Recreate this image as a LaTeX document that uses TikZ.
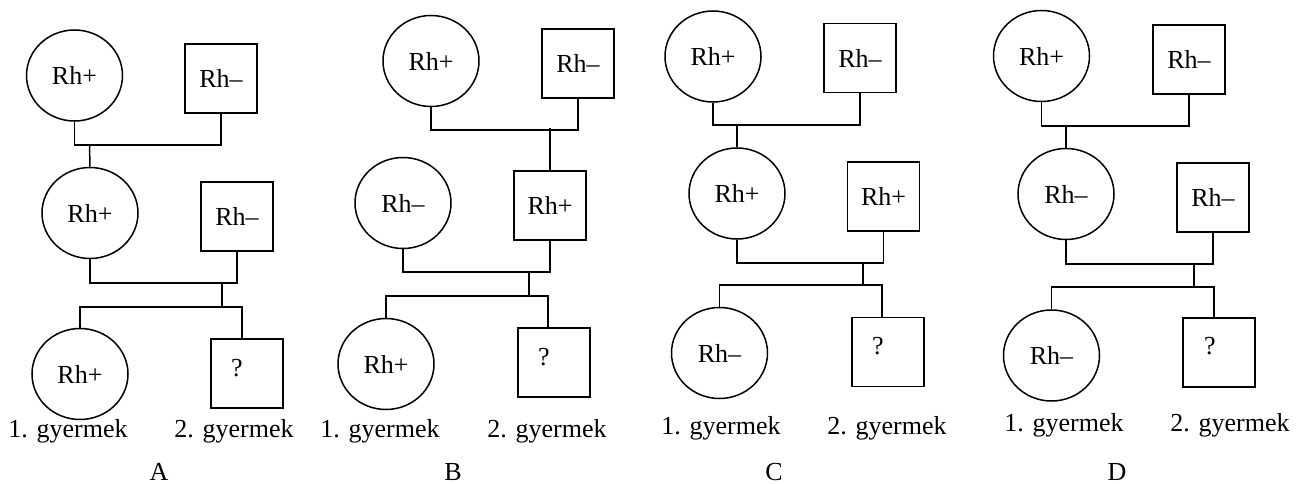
\documentclass[tikz,border=0pt]{standalone}
\usepackage{fontspec}
\setmainfont{Liberation Serif}
\usetikzlibrary{shapes.geometric}
\begin{document}
\begin{tikzpicture}[x=1pt,y=-1pt,line width=1.5pt,
  woman/.style={ellipse,draw,minimum width=96pt,minimum height=91pt,inner sep=0pt},
  man/.style={rectangle,draw,minimum width=72pt,minimum height=69pt,inner sep=0pt},
  every node/.append style={font=\fontsize{26}{31}\selectfont}]
\useasboundingbox (0,0) rectangle (1304,484);
% A
\node[woman](AW1) at (74.5,75.5){Rh+};
\node[man](AM1) at (221,78.5){Rh--};
\coordinate (Aj1) at (89.5,145);
\draw (AW1.south) |- (Aj1) -| (AM1.south);
\node[woman](AW2) at (90,213){Rh+};
\draw (Aj1) -- (AW2.north);
\node[man](AM2) at (237,216.5){Rh--};
\coordinate (Aj2) at (222,283);
\coordinate (Ak) at (222,307);
\draw (AW2.south) |- (Aj2) -| (AM2.south);
\draw (Aj2) -- (Ak);
\node[woman](AC1) at (80,374){Rh+};
\node[man](AC2) at (247,373.5){};
\node (AQ) at ([shift={(-10,-5)}]AC2.center){?};
\draw (AC1.north) |- (Ak) -| ([xshift=-5pt]AC2.north);
\node[anchor=base](AL1) at (68,437){1. gyermek};
\node[anchor=base](AL2) at (234,437){2. gyermek};
\node[anchor=base](A) at (159,480){A};
% B
\node[woman](BW1) at (431,61){Rh+};
\node[man](BM1) at (578,63.5){Rh--};
\coordinate (Bj1) at (550,130);
\draw (BW1.south) |- (Bj1) -| (BM1.south);
\node[woman](BW2) at (403,203){Rh--};
\node[man](BM2) at (550,205.5){Rh+};
\draw ([yshift=2pt]Bj1) -- (BM2.north);
\coordinate (Bj2) at (529,272);
\coordinate (Bk) at (529,296);
\draw (BW2.south) |- (Bj2) -| (BM2.south);
\draw (Bj2) -- (Bk);
\node[woman](BC1) at (386,364){Rh+};
\node[man](BC2) at (554,362.5){};
\node (BQ) at ([shift={(-10,-5)}]BC2.center){?};
\draw (BC1.north) |- (Bk) -| ([xshift=-6pt]BC2.north);
\node[anchor=base](BL1) at (380,437){1. gyermek};
\node[anchor=base](BL2) at (547,437){2. gyermek};
\node[anchor=base](B) at (453,480){B};
% C
\node[woman](CW1) at (713,56.5){Rh+};
\node[man](CM1) at (860,58){Rh--};
\coordinate (Cj1) at (737,125);
\draw (CW1.south) |- (Cj1) -| (CM1.south);
\node[woman](CW2) at (737,193.5){Rh+};
\draw (Cj1) -- (CW2.north);
\node[man](CM2) at (883.5,196.5){Rh+};
\coordinate (Cj2) at (863,263);
\coordinate (Ck) at (863,285);
\draw (CW2.south) |- (Cj2) -| (CM2.south);
\draw (Cj2) -- (Ck);
\node[woman](CC1) at (719.5,353){Rh--};
\node[man](CC2) at (888,352){};
\node (CQ) at ([shift={(-10,-6)}]CC2.center){?};
\draw (CC1.north) |- (Ck) -| ([xshift=-6pt]CC2.north);
\node[anchor=base](CL1) at (721,434){1. gyermek};
\node[anchor=base](CL2) at (887,434){2. gyermek};
\node[anchor=base](C) at (774,480){C};
% D
\node[woman](DW1) at (1041.5,56){Rh+};
\node[man](DM1) at (1189,59.5){Rh--};
\coordinate (Dj1) at (1066,126);
\draw (DW1.south) |- (Dj1) -| (DM1.south);
\node[woman](DW2) at (1066,194){Rh--};
\draw (Dj1) -- (DW2.north);
\node[man](DM2) at (1213,197.5){Rh--};
\coordinate (Dj2) at (1194,264);
\coordinate (Dk) at (1194,287);
\draw (DW2.south) |- (Dj2) -| (DM2.south);
\draw (Dj2) -- (Dk);
\node[woman](DC1) at (1051.5,355.5){Rh--};
\node[man](DC2) at (1219,352.5){};
\node (DQ) at ([shift={(-9,-6)}]DC2.center){?};
\draw (DC1.north) |- (Dk) -| ([xshift=-5pt]DC2.north);
\node[anchor=base](DL1) at (1064,431){1. gyermek};
\node[anchor=base](DL2) at (1230,431){2. gyermek};
\node[anchor=base](D) at (1117,480){D};
\end{tikzpicture}
\end{document}
